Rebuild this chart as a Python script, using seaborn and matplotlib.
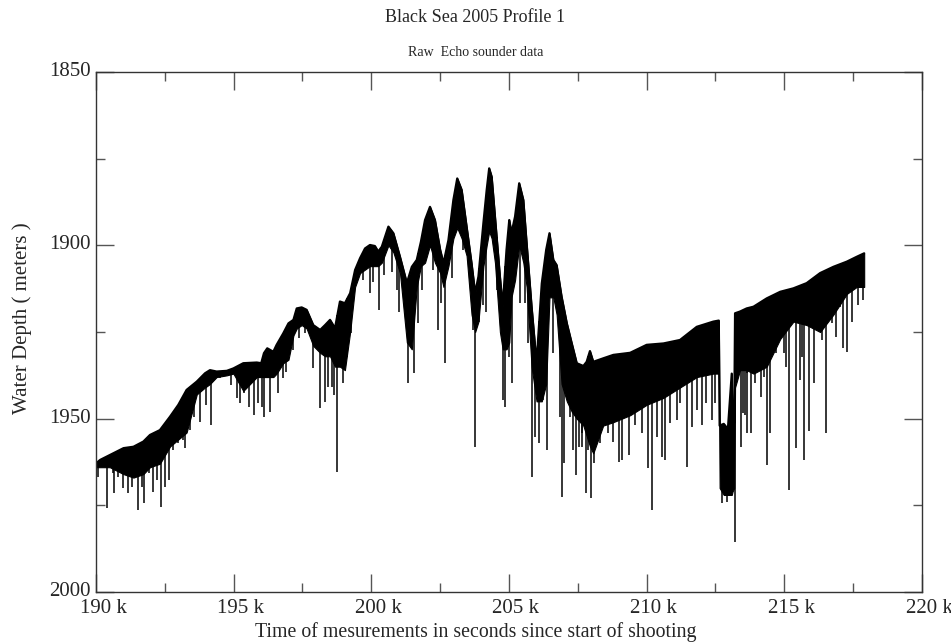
import numpy as np
import pandas as pd
import matplotlib
matplotlib.use("Agg")
import matplotlib.pyplot as plt
from matplotlib.ticker import MultipleLocator, FuncFormatter
from matplotlib.transforms import ScaledTranslation
import seaborn as sns

# ---- data (time in k seconds, depth in metres) ----
env_t = [190.0, 190.15, 190.5, 191.0, 191.36, 191.72, 191.96, 192.32, 192.69, 192.99,
         193.29, 193.66, 193.96, 194.14, 194.38, 194.75, 194.99, 195.35, 195.84, 196.0,
         196.1, 196.22, 196.44, 196.56, 196.8, 196.99, 197.17, 197.29, 197.47, 197.65,
         197.89, 198.14, 198.32, 198.5, 198.68, 198.86, 199.04, 199.23, 199.41, 199.59,
         199.77, 199.95, 200.13, 200.25, 200.38, 200.62, 200.8, 201.04, 201.29, 201.47,
         201.65, 201.8, 201.95, 202.13, 202.31, 202.5, 202.62, 202.8, 202.98, 203.12,
         203.28, 203.46, 203.64, 203.77, 203.89, 204.07, 204.19, 204.28, 204.37, 204.49,
         204.67, 204.77, 204.91, 205.01, 205.09, 205.22, 205.37, 205.52, 205.64, 205.82,
         206.0, 206.19, 206.35, 206.47, 206.61, 206.73, 206.91, 207.1, 207.28, 207.46,
         207.7, 207.82, 207.94, 208.06, 208.42, 208.79, 209.4, 210.0, 210.61, 211.21,
         211.82, 212.42, 212.62, 212.65, 212.8, 212.95, 213.09, 213.12, 213.18, 213.21,
         213.39, 213.63, 213.88, 214.36, 214.85, 215.33, 215.81, 216.3, 216.78, 217.27,
         217.63, 217.9]
env_d = [1962.9, 1961.9, 1960.5, 1958.5, 1958.1, 1956.6, 1954.7, 1953.3, 1949.4, 1946.0,
         1941.7, 1939.3, 1936.9, 1936.0, 1936.4, 1936.2, 1935.5, 1934.0, 1933.8, 1934.0,
         1931.1, 1929.7, 1930.7, 1928.7, 1925.4, 1922.5, 1921.5, 1918.2, 1917.9, 1918.6,
         1923.0, 1924.4, 1923.0, 1921.5, 1923.9, 1916.2, 1916.7, 1913.8, 1907.1, 1903.7,
         1900.9, 1899.9, 1900.2, 1901.8, 1900.4, 1894.6, 1896.5, 1903.3, 1910.9, 1906.2,
         1904.2, 1899.0, 1892.7, 1888.9, 1892.7, 1901.3, 1905.2, 1898.5, 1886.9, 1880.7,
         1884.0, 1894.6, 1905.2, 1913.8, 1909.0, 1893.6, 1884.0, 1877.8, 1880.2, 1891.7,
         1909.0, 1917.7, 1901.3, 1892.7, 1896.5, 1891.7, 1882.1, 1886.9, 1899.4, 1917.7,
         1934.0, 1911.0, 1901.3, 1896.5, 1904.2, 1905.7, 1914.8, 1922.5, 1928.3, 1934.0,
         1934.8, 1933.6, 1930.5, 1933.6, 1932.6, 1931.6, 1931.0, 1928.7, 1928.3, 1927.3,
         1923.5, 1922.0, 1921.7, 1952.0, 1951.5, 1953.0, 1937.0, 1952.0, 1951.0, 1919.6,
         1919.1, 1918.2, 1917.7, 1915.3, 1913.4, 1912.4, 1910.9, 1908.0, 1906.2, 1904.7,
         1903.3, 1902.3]
# lower edge of the dense echo band, same times as env_t
band_d = [1964, 1964, 1964, 1966, 1967, 1966, 1964, 1963, 1958, 1956,
          1954, 1943, 1941, 1940, 1938, 1937.5, 1937, 1942, 1938, 1938,
          1938, 1938, 1938, 1937, 1934, 1933, 1926, 1924, 1923, 1924,
          1929, 1931, 1932, 1932, 1935, 1935, 1936, 1925, 1912, 1908,
          1907, 1906, 1906, 1906, 1905, 1900, 1902, 1908, 1928, 1930,
          1912, 1906, 1905, 1900, 1905, 1908, 1912, 1906, 1898, 1895,
          1898, 1903, 1920, 1925, 1922, 1906, 1900, 1896, 1898, 1905,
          1925, 1930, 1930, 1928, 1915, 1910, 1900, 1905, 1912, 1935,
          1945, 1945, 1940, 1915, 1915, 1920, 1940, 1945, 1948, 1950,
          1952, 1955, 1958, 1960, 1952, 1951, 1949, 1946, 1944, 1941,
          1938, 1937, 1937, 1970, 1972, 1972, 1972, 1971, 1970, 1941,
          1936, 1936, 1937, 1935, 1927, 1922, 1923, 1925, 1920, 1914,
          1912, 1912]
# isolated spikes: time and deepest reading
spike_t = [190.0, 190.08, 190.39, 190.6, 190.65, 190.81, 190.97, 191.15, 191.3, 191.51,
           191.66, 191.75, 191.94, 192.08, 192.2, 192.35, 192.51, 192.65, 192.81, 192.99,
           193.15, 193.23, 193.41, 193.56, 193.78, 193.99, 194.16, 194.5, 194.89, 195.11,
           195.23, 195.38, 195.57, 195.74, 195.9, 196.02, 196.1, 196.31, 196.62, 196.78,
           196.9, 197.17, 197.38, 197.59, 197.89, 198.14, 198.32, 198.44, 198.56, 198.65,
           198.77, 198.98, 199.13, 199.25, 199.71, 199.95, 200.07, 200.29, 200.46, 200.74,
           200.92, 201.02, 201.32, 201.55, 201.71, 201.83, 202.01, 202.25, 202.43, 202.52,
           202.68, 202.92, 203.34, 203.59, 203.68, 203.78, 203.92, 204.04, 204.15, 204.37,
           204.55, 204.77, 204.87, 205.01, 205.11, 205.4, 205.58, 205.7, 205.84, 205.95,
           206.1, 206.22, 206.37, 206.61, 206.85, 206.93, 207.0, 207.22, 207.31, 207.42,
           207.55, 207.64, 207.66, 207.73, 207.8, 207.88, 207.97, 208.09, 208.31, 208.61,
           208.79, 209.01, 209.09, 209.27, 209.37, 209.58, 209.82, 210.06, 210.18, 210.36,
           210.55, 210.67, 210.85, 211.09, 211.21, 211.48, 211.65, 211.82, 212.0, 212.15,
           212.36, 212.48, 212.73, 212.9, 213.21, 213.43, 213.51, 213.56, 213.63, 213.66,
           213.79, 213.94, 214.14, 214.27, 214.38, 214.48, 214.7, 214.97, 215.05, 215.18,
           215.43, 215.57, 215.63, 215.72, 215.9, 216.08, 216.36, 216.52, 216.72, 216.87,
           217.02, 217.14, 217.27, 217.45, 217.69, 217.87]
spike_d = [1973.4, 1966.7, 1975.8, 1965.8, 1971.5, 1966.7, 1970.1, 1971.5, 1969.6, 1976.3,
           1969.6, 1974.4, 1965.8, 1971.1, 1967.7, 1975.4, 1969.6, 1967.7, 1959.0, 1957.1,
           1956.1, 1958.5, 1953.3, 1949.4, 1950.9, 1946.0, 1951.8, 1938.3, 1940.3, 1944.1,
           1945.6, 1942.7, 1946.5, 1948.9, 1945.6, 1946.5, 1949.4, 1948.2, 1942.7, 1938.3,
           1936.4, 1930.2, 1926.8, 1925.4, 1935.5, 1947.0, 1945.1, 1940.8, 1940.8, 1943.2,
           1965.3, 1939.8, 1932.1, 1925.4, 1910.0, 1913.8, 1910.5, 1918.6, 1908.6, 1907.6,
           1912.9, 1919.1, 1939.8, 1936.9, 1922.5, 1912.9, 1901.3, 1907.1, 1924.4, 1916.7,
           1934.0, 1909.5, 1901.3, 1907.6, 1924.4, 1958.1, 1922.0, 1917.2, 1919.1, 1897.5,
           1912.9, 1944.6, 1946.5, 1932.1, 1939.8, 1916.7, 1916.7, 1928.3, 1966.7, 1955.2,
           1957.1, 1944.6, 1959.0, 1931.1, 1949.4, 1972.5, 1962.9, 1949.4, 1959.0, 1966.2,
           1958.1, 1958.1, 1954.2, 1949.4, 1971.5, 1959.0, 1973.0, 1962.9, 1957.1, 1954.2,
           1956.6, 1962.4, 1961.9, 1949.4, 1960.5, 1951.8, 1954.2, 1964.3, 1976.3, 1955.2,
           1961.0, 1961.9, 1951.3, 1950.4, 1945.6, 1963.8, 1952.3, 1947.5, 1951.8, 1945.6,
           1950.4, 1945.6, 1974.4, 1974.0, 1985.5, 1958.1, 1948.5, 1948.9, 1954.2, 1936.9,
           1954.2, 1939.8, 1943.7, 1937.9, 1963.4, 1954.2, 1931.1, 1931.1, 1935.0, 1970.6,
           1958.5, 1938.8, 1932.1, 1961.9, 1953.7, 1939.8, 1927.3, 1954.2, 1922.5, 1926.3,
           1917.7, 1929.7, 1930.7, 1922.0, 1917.2, 1915.8]

x_ticks_k = [190, 195, 200, 205, 210, 215, 220]
y_ticks = [1850, 1900, 1950, 2000]

title = "Black Sea 2005 Profile 1"
subtitle = "Raw  Echo sounder data"
xlabel = "Time of mesurements in seconds since start of shooting"
ylabel = "Water Depth ( meters )"

# ---- plotting ----
sns.set_style("white")
plt.rcParams["font.family"] = ["Liberation Serif", "DejaVu Serif"]

W, H = 951, 643
fig = plt.figure(figsize=(W / 100, H / 100), dpi=100)
ax = fig.add_axes([96 / W, 1 - 592 / H, (922 - 96) / W, (592 - 72) / H])

et = np.array(env_t) * 1000.0
ed = np.array(env_d)
bd = np.array(band_d)
st = np.array(spike_t) * 1000.0
sd = np.array(spike_d)

ax.fill_between(et, ed, bd, color="black", linewidth=0.8, edgecolor="black")
ax.vlines(st, np.interp(st, et, ed), sd, color="black", linewidth=1.1)
df = pd.DataFrame({"t": et, "d": ed})
sns.lineplot(data=df, x="t", y="d", sort=False, estimator=None, color="black",
             linewidth=1.6, ax=ax)

ax.set_xlim(190000, 220000)
ax.set_ylim(2000, 1850)
ax.set_xticks([k * 1000 for k in x_ticks_k])
ax.xaxis.set_major_formatter(FuncFormatter(lambda v, p: f"{v / 1000:.0f} k"))
ax.xaxis.set_minor_locator(MultipleLocator(2500))
ax.set_yticks(y_ticks)
ax.yaxis.set_minor_locator(MultipleLocator(25))
ax.set_xlabel("")
ax.set_ylabel("")

ax.tick_params(which="both", direction="in", top=True, right=True,
               bottom=True, left=True, color="#555555", width=1.0,
               labelsize=15)
ax.tick_params(axis="x", which="both", pad=5)
ax.tick_params(axis="y", which="both", pad=4)
ax.tick_params(which="major", length=13)
ax.tick_params(which="minor", length=6.5)
for s in ax.spines.values():
    s.set_color("#333333")
    s.set_linewidth(1.0)

off = ScaledTranslation(7 / 100, 0, fig.dpi_scale_trans)
for lab in ax.get_xticklabels():
    lab.set_transform(lab.get_transform() + off)
up = ScaledTranslation(0, 3 / 100, fig.dpi_scale_trans)
for lab in ax.get_yticklabels():
    lab.set_transform(lab.get_transform() + up)

fig.text(0.5, 1 - 18 / H, title, ha="center", va="center", fontsize=13)
fig.text(0.5, 1 - 52 / H, subtitle, ha="center", va="center", fontsize=10)
fig.text(0.5, 1 - 632 / H, xlabel, ha="center", va="center", fontsize=14.3)
fig.text(22 / W, 1 - 318 / H, ylabel, ha="center", va="center", rotation=90,
         fontsize=15)

fig.savefig("out.png", dpi=100)
